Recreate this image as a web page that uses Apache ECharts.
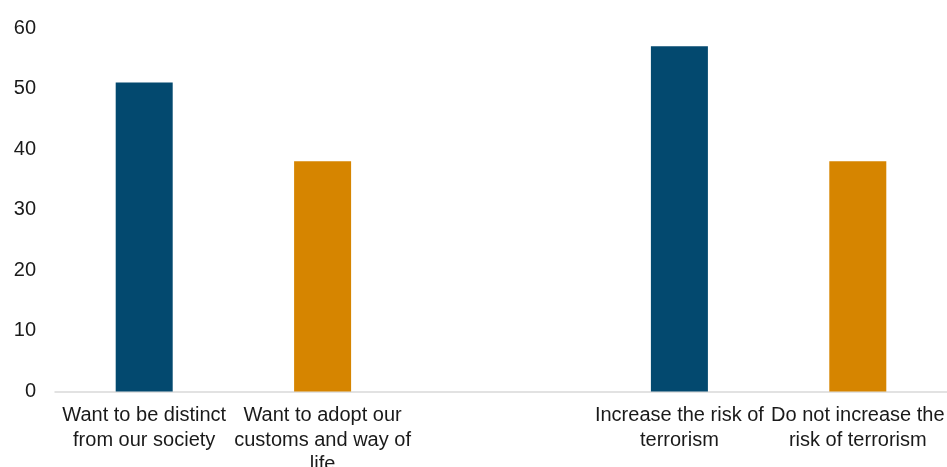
<!DOCTYPE html>
<html>
<head>
<meta charset="utf-8">
<script src="https://cdn.jsdelivr.net/npm/echarts@6/dist/echarts.min.js"></script>
<style>
  html, body { margin: 0; padding: 0; background: #ffffff; }
  #chart { width: 947px; height: 467px; }
</style>
</head>
<body>
<div id="chart"></div>
<script>
// Category labels (empty slot separates the two question groups)
const categories = [
  'Want to be distinct\nfrom our society',
  'Want to adopt our\ncustoms and way of\nlife',
  '',
  'Increase the risk of\nterrorism',
  'Do not increase the\nrisk of terrorism'
];
// First answer of each pair
const firstAnswer = [51, '-', '-', 57, '-'];
// Second answer of each pair
const secondAnswer = ['-', 38, '-', '-', 38];
const yTicks = { min: 0, max: 60, interval: 10 };

const chart = echarts.init(document.getElementById('chart'), null, { renderer: 'canvas' });
chart.setOption({
  animation: false,
  backgroundColor: '#ffffff',
  textStyle: { fontFamily: 'Liberation Sans, Arial, sans-serif' },
  // Fixed plot rectangle; the last label line may run past the bottom edge
  grid: { left: 55, right: 0, top: 28, bottom: 75.5, containLabel: false, outerBoundsMode: 'none' },
  xAxis: {
    type: 'category',
    data: categories,
    boundaryGap: true,
    axisLine: { show: true, lineStyle: { color: '#d9d9d9', width: 1.5 } },
    axisTick: { show: false },
    axisLabel: {
      interval: 0,
      margin: 12,
      color: '#1a1a1a',
      fontSize: 20,
      lineHeight: 24.5,
      fontFamily: 'Liberation Sans, Arial, sans-serif'
    }
  },
  yAxis: {
    type: 'value',
    min: yTicks.min,
    max: yTicks.max,
    interval: yTicks.interval,
    axisLine: { show: false },
    axisTick: { show: false },
    splitLine: { show: false },
    axisLabel: {
      margin: 19,
      color: '#1a1a1a',
      fontSize: 20,
      fontFamily: 'Liberation Sans, Arial, sans-serif'
    }
  },
  series: [
    {
      type: 'bar',
      data: firstAnswer,
      barWidth: 57,
      barGap: '-100%',
      itemStyle: { color: '#03496F' }
    },
    {
      type: 'bar',
      data: secondAnswer,
      barWidth: 57,
      barGap: '-100%',
      itemStyle: { color: '#D68500' }
    }
  ]
});
</script>
</body>
</html>
